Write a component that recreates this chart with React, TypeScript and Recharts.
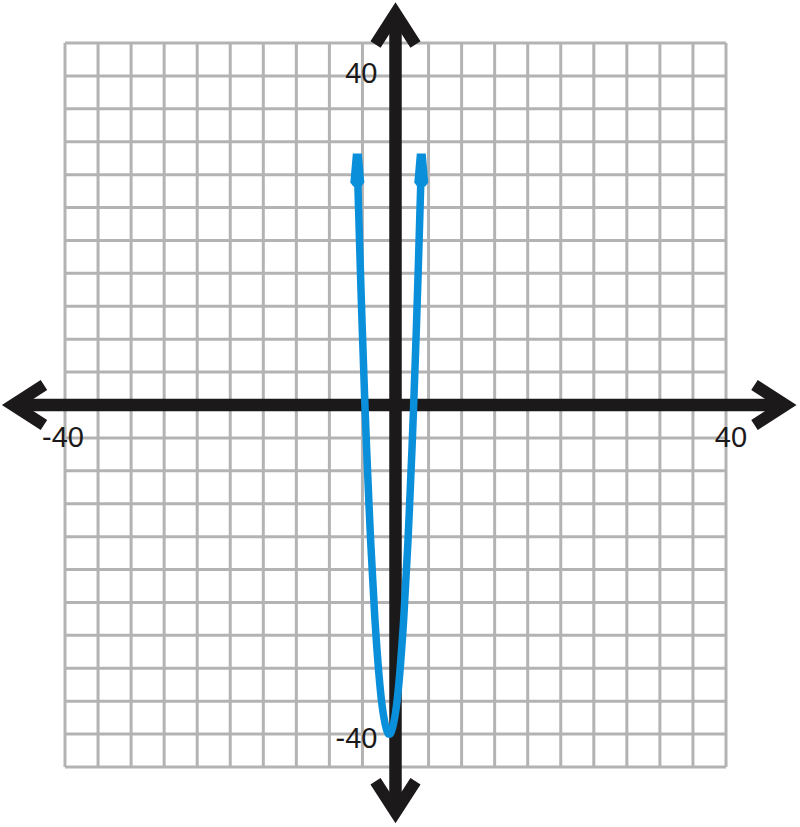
import { CartesianGrid, Line, LineChart, ReferenceDot, ReferenceLine, XAxis, YAxis } from 'recharts';

// parabola (vertex near x = -0.75, y = -40)
const curveX = [-4.62, -4.25, -4, -3.75, -3.5, -3, -2.5, -2, -1.5, -1, -0.75, -0.5, 0, 0.5, 1, 1.5, 2, 2.25, 2.5, 2.75, 3.12];
const curveY = [29, 16.4, 8.6, 1.4, -5.2, -16.7, -25.9, -32.8, -37.4, -39.7, -40, -39.7, -37.4, -32.8, -25.9, -16.7, -5.2, 1.4, 8.6, 16.4, 29];

const xTicks = [-40, -36, -32, -28, -24, -20, -16, -12, -8, -4, 0, 4, 8, 12, 16, 20, 24, 28, 32, 36, 40];
const yTicks = [-44, -40, -36, -32, -28, -24, -20, -16, -12, -8, -4, 0, 4, 8, 12, 16, 20, 24, 28, 32, 36, 40, 44];

// where the axis arrows end (data units)
const xAxisEnds = [-46.3, 47.2];
const yAxisEnds = [-49.5, 47.6];

const xLabels = [-40, 40];
const yLabels = [40, -40];

const BLUE = '#0a8fdb';
const INK = '#1b1919';
const GRID = '#b3b3b3';
const FONT = 'Arial, "Liberation Sans", sans-serif';

const data = curveX.map((x, i) => ({ x, y: curveY[i] }));

// thick axis with an open chevron at each end
const ArrowAxis = (props: any) => {
  const { x1, y1, x2, y2 } = props;
  const len = Math.hypot(x2 - x1, y2 - y1);
  const ux = (x2 - x1) / len;
  const uy = (y2 - y1) / len;
  const back = 31;
  const spread = 20;
  const head = (tx: number, ty: number, dx: number, dy: number) => {
    const bx = tx - dx * back;
    const by = ty - dy * back;
    return `${bx - dy * spread},${by + dx * spread} ${tx},${ty} ${bx + dy * spread},${by - dx * spread}`;
  };
  return (
    <g>
      <line x1={x1 + ux * 4} y1={y1 + uy * 4} x2={x2 - ux * 4} y2={y2 - uy * 4} stroke={INK} strokeWidth={12.5} />
      <polyline points={head(x1, y1, -ux, -uy)} fill="none" stroke={INK} strokeWidth={12} strokeLinejoin="miter" strokeMiterlimit={10} />
      <polyline points={head(x2, y2, ux, uy)} fill="none" stroke={INK} strokeWidth={12} strokeLinejoin="miter" strokeMiterlimit={10} />
    </g>
  );
};

// small upward arrow heads at both ends of the curve
const CurveEnd = (props: any) => {
  const { cx, cy, index } = props;
  if (index !== 0 && index !== data.length - 1) return <g key={`d${index}`} />;
  const top = cy - 13;
  const pts = `${cx - 4.5},${top} ${cx + 4.5},${top} ${cx + 7},${cy + 16} ${cx + 4},${cy + 20} ${cx - 4},${cy + 20} ${cx - 7},${cy + 16}`;
  return <polygon key={`d${index}`} points={pts} fill={BLUE} />;
};

const makeLabel = (text: string, dx: number, dy: number, anchor: 'start' | 'middle' | 'end') => (props: any) => {
  const { viewBox } = props;
  return (
    <text x={viewBox.x + dx} y={viewBox.y + dy} textAnchor={anchor} fontFamily={FONT} fontSize={29} fill={INK}>
      {text}
    </text>
  );
};

export default function App() {
  return (
    <div style={{ width: 800, height: 827, background: '#ffffff' }}>
      <style>{'body{margin:0}'}</style>
      <LineChart width={800} height={827} data={data} margin={{ top: 43, right: 74, bottom: 60, left: 65 }}>
        <XAxis dataKey="x" type="number" domain={[-40, 40]} ticks={xTicks} interval={0} allowDataOverflow hide />
        <YAxis dataKey="y" type="number" domain={[-44, 44]} ticks={yTicks} interval={0} allowDataOverflow hide />
        <CartesianGrid stroke={GRID} strokeWidth={3} />
        <ReferenceLine
          segment={[{ x: xAxisEnds[0], y: 0 }, { x: xAxisEnds[1], y: 0 }]}
          ifOverflow="visible"
          shape={ArrowAxis}
          zIndex={100}
        />
        <ReferenceLine
          segment={[{ x: 0, y: yAxisEnds[0] }, { x: 0, y: yAxisEnds[1] }]}
          ifOverflow="visible"
          shape={ArrowAxis}
          zIndex={100}
        />
        <ReferenceDot x={xLabels[0]} y={0} r={0} fill="none" stroke="none" ifOverflow="visible"
          label={{ content: makeLabel(String(xLabels[0]), -2, 42, 'middle') }} />
        <ReferenceDot x={xLabels[1]} y={0} r={0} fill="none" stroke="none" ifOverflow="visible"
          label={{ content: makeLabel(String(xLabels[1]), 5, 42, 'middle') }} />
        <ReferenceDot x={0} y={yLabels[0]} r={0} fill="none" stroke="none" ifOverflow="visible"
          label={{ content: makeLabel(String(yLabels[0]), -18, 7, 'end') }} />
        <ReferenceDot x={0} y={yLabels[1]} r={0} fill="none" stroke="none" ifOverflow="visible"
          label={{ content: makeLabel(String(yLabels[1]), -18, 14, 'end') }} />
        <Line
          dataKey="y"
          type="natural"
          stroke={BLUE}
          strokeWidth={7.5}
          dot={CurveEnd}
          activeDot={false}
          isAnimationActive={false}
          zIndex={1000}
        />
      </LineChart>
    </div>
  );
}
